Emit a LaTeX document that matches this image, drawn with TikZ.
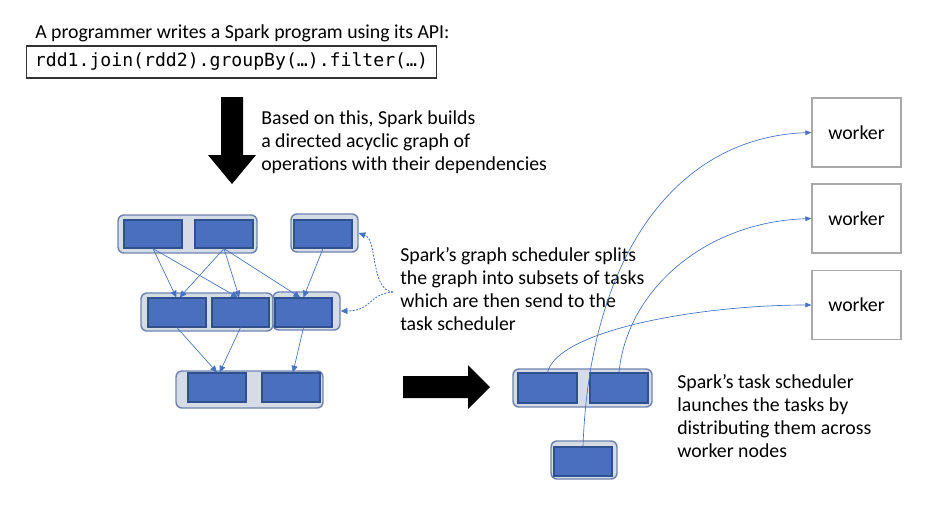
\documentclass[tikz,border=0pt]{standalone}
\usepackage{fontspec}
\setmainfont{Carlito}
\setmonofont{DejaVu Sans Mono}
\usetikzlibrary{arrows.meta,fit}
\definecolor{taskfill}{HTML}{4A6FBE}
\definecolor{taskdraw}{HTML}{2F528F}
\definecolor{grpfill}{HTML}{D6DCE5}
\definecolor{grpdraw}{HTML}{6F83B0}
\definecolor{arr}{HTML}{4472C4}
\definecolor{wdraw}{HTML}{A9A9A9}
\begin{document}
\begin{tikzpicture}[x=0.75pt,y=-0.75pt,
  txt/.style={font=\fontsize{14.85}{17.4}\selectfont, inner sep=0pt, align=left},
  grp/.style={fill=grpfill, draw=grpdraw, line width=1.1pt, rounded corners=4.5pt, inner sep=0pt},
  task/.style={fill=taskfill, draw=taskdraw, line width=0.9pt, inner sep=0pt},
  dep/.style={draw=arr, line width=0.5pt, -{Triangle[width=4.5pt,length=5pt]}},
  send/.style={draw=arr, line width=0.5pt, -{Triangle[width=3.5pt,length=4.5pt]}},
  split/.style={draw=arr, line width=0.6pt, dash pattern=on 1.5pt off 1pt, -{Triangle[width=4.5pt,length=5pt]}},
  worker/.style={draw=wdraw, line width=0.9pt, fill=white, inner sep=0pt, minimum width=66.75pt, minimum height=51.75pt, font=\fontsize{14.85}{17.4}\selectfont},
  codebox/.style={draw=black!80, line width=0.8pt, minimum width=307.5pt, minimum height=24pt, inner sep=0pt, font=\fontsize{13.6}{16}\selectfont\ttfamily},
  bigarrow/.style={fill=black}
]
\fill[white] (0,0) rectangle (936,508);
\useasboundingbox (0,0) rectangle (936,508);

% texts
\node[txt, anchor=base west] (title) at (35,38) {A programmer writes a Spark program using its API:};
\node[codebox] (code) at (231.5,62) {rdd1.join(rdd2).groupBy(…).filter(…)};
\node[txt, anchor=north west] (dagtxt) at (261,110) {Based on this, Spark builds\\a directed acyclic graph of\\operations with their dependencies};
\node[txt, anchor=north west] (splittxt) at (400,247) {Spark’s graph scheduler splits\\the graph into subsets of tasks\\which are then send to the\\task scheduler};
\node[txt, anchor=north west] (tasktxt) at (677,374) {Spark’s task scheduler\\launches the tasks by\\distributing them across\\worker nodes};

% big arrows
\fill[bigarrow] (221,97) -- (243,97) -- (243,155) -- (256,155) -- (232,184) -- (208,155) -- (221,155) -- cycle;
\fill[bigarrow] (403,376) -- (468,376) -- (468,365) -- (490,387) -- (468,409) -- (468,398) -- (403,398) -- cycle;

% DAG groups
\node[grp, fit={(118,215) (257,253)}] (g1) {};
\node[grp, fit={(291,214) (358,252)}] (g2) {};
\node[grp, fit={(141,293) (273,331)}] (g3) {};
\node[grp, fit={(273,292) (340,330)}] (g4) {};
\node[grp, fit={(176,371) (323,408)}] (g5) {};
% DAG tasks
\node[task, fit={(124,220) (182,248)}] (a1) {};
\node[task, fit={(195,220) (253,248)}] (a2) {};
\node[task, fit={(294,220) (352,248)}] (b1) {};
\node[task, fit={(148,298) (206,327)}] (c1) {};
\node[task, fit={(212,298) (269,327)}] (c2) {};
\node[task, fit={(275,298) (332,327)}] (c3) {};
\node[task, fit={(188,373) (246,402)}] (d1) {};
\node[task, fit={(262,373) (320,402)}] (d2) {};

% DAG dependencies
\draw[dep] (a1.south) -- ([xshift=-0.5pt]c1.north);
\draw[dep] (a1.south) -- ([xshift=-2pt]c2.north);
\draw[dep] (a2.south) -- ([xshift=2pt]c1.north);
\draw[dep] (a2.south) -- ([xshift=-1pt]c2.north);
\draw[dep] (a2.south) -- ([xshift=-2.5pt]c3.north);
\draw[dep] (b1.south) -- ([xshift=0pt]c3.north);
\draw[dep] (c1.south) -- ([xshift=0pt]d1.north);
\draw[dep] (c2.south) -- ([xshift=2pt]d1.north);
\draw[dep] (c3.south) -- ([xshift=1.5pt]d2.north);

% graph scheduler split arrows
\coordinate (sp) at (393,292);
\draw[split] (sp) .. controls (370,290) and (378,240) .. (g2.east);
\draw[split] (sp) .. controls (368,294) and (372,311) .. (g4.east);

% task scheduler
\node[grp, fit={(513,369) (652,407)}] (g6) {};
\node[task, fit={(518,373) (577,403)}] (t1) {};
\node[task, fit={(590,373) (648,403)}] (t2) {};
\node[grp, fit={(551,441) (617,479)}] (g7) {};
\node[task, fit={(554,447) (612,476)}] (t3) {};

% workers
\node[worker] (w1) at (856.5,132.5) {worker};
\node[worker] (w2) at (856.5,218.5) {worker};
\node[worker] (w3) at (856.5,305) {worker};

% sending tasks to workers
\draw[send] (t3.north) .. controls (590,250) and (680,137) .. (w1.west);
\draw[send] (t2.north) .. controls (627,290) and (705,222) .. (w2.west);
\draw[send] (t1.north) .. controls (558,330) and (700,305) .. (w3.west);
\end{tikzpicture}
\end{document}
